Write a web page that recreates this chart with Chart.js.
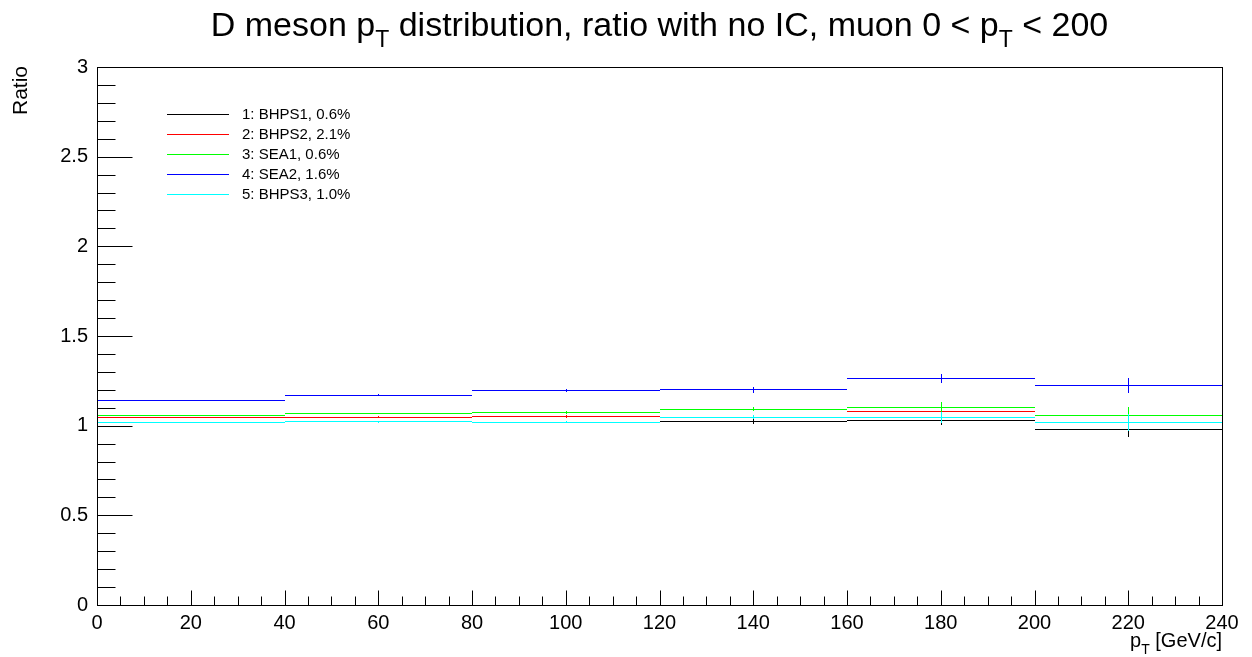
<!DOCTYPE html>
<html>
<head>
<meta charset="utf-8">
<script src="https://cdn.jsdelivr.net/npm/chart.js@4/dist/chart.umd.min.js"></script>
<style>
  body { margin: 0; background: #fff; font-family: "Liberation Sans", Arial, sans-serif; }
  #wrap { position: relative; width: 1252px; height: 657px; }
  #title { position: absolute; left: 97px; width: 1125px; top: 5px; text-align: center; font-size: 34px; white-space: nowrap; }
  #title sub { font-size: 23px; vertical-align: -11px; line-height: 0; }
  #ytitle { position: absolute; left: 8px; top: 115px; font-size: 21px; transform: rotate(-90deg); transform-origin: 0 0; white-space: nowrap; }
  #xtitle { position: absolute; right: 30px; top: 629px; font-size: 20px; white-space: nowrap; }
  #xtitle sub { font-size: 14px; vertical-align: -7px; line-height: 0; }
  #legend { position: absolute; left: 167px; top: 104px; font-size: 15px; }
  .row { height: 20px; display: flex; align-items: flex-start; line-height: 20px; }
  .sw { width: 62px; height: 0; margin-top: 10px; margin-right: 13px; border-top: 1px solid; }
</style>
</head>
<body>
<div id="wrap">
  <canvas id="c" width="1252" height="657"></canvas>
  <div id="title">D meson p<sub>T</sub> distribution, ratio with no IC, muon 0 &lt; p<sub>T</sub> &lt; 200</div>
  <div id="ytitle">Ratio</div>
  <div id="xtitle">p<sub>T</sub> [GeV/c]</div>
  <div id="legend"></div>
</div>
<script>
'use strict';

// bin edges in pT [GeV/c]
const binEdges = [0, 40, 80, 120, 160, 200, 240];

const seriesNames = ['1: BHPS1, 0.6%', '2: BHPS2, 2.1%', '3: SEA1, 0.6%', '4: SEA2, 1.6%', '5: BHPS3, 1.0%'];
const seriesColors = ['#000000', '#ff0000', '#00ff00', '#0000ff', '#00ffff'];

const bhps1    = [1.018, 1.022, 1.020, 1.026, 1.029, 0.979];
const bhps1Err = [0.004, 0.005, 0.006, 0.015, 0.025, 0.040];
const bhps2    = [1.046, 1.048, 1.053, 1.048, 1.081, 1.059];
const bhps2Err = [0.004, 0.005, 0.008, 0.013, 0.030, 0.045];
const sea1     = [1.057, 1.068, 1.074, 1.091, 1.102, 1.059];
const sea1Err  = [0.004, 0.005, 0.007, 0.012, 0.031, 0.044];
const sea2     = [1.141, 1.169, 1.197, 1.200, 1.264, 1.225];
const sea2Err  = [0.003, 0.005, 0.009, 0.016, 0.026, 0.043];
const bhps3    = [1.018, 1.022, 1.020, 1.048, 1.046, 1.018];
const bhps3Err = [0.004, 0.005, 0.006, 0.013, 0.030, 0.046];

const allValues = [bhps1, bhps2, sea1, sea2, bhps3];
const allErrors = [bhps1Err, bhps2Err, sea1Err, sea2Err, bhps3Err];

// horizontal segment per bin, broken between bins
function stepPoints(values) {
  const pts = [];
  values.forEach((v, i) => {
    pts.push({ x: binEdges[i], y: v });
    pts.push({ x: binEdges[i + 1], y: v });
    pts.push({ x: binEdges[i + 1], y: null });
  });
  return pts;
}

// later series are drawn over earlier ones, like ROOT does
const datasets = allValues.map((vals, k) => ({
  label: seriesNames[k],
  data: stepPoints(vals),
  borderColor: seriesColors[k],
  borderWidth: 1,
  pointRadius: 0,
  spanGaps: false,
  order: -k,
  errors: allErrors[k],
  values: vals,
}));

const snap = v => Math.round(v - 0.5) + 0.5;

// snap the library's computed points to the pixel grid so 1px lines stay crisp
const pixelSnap = {
  id: 'pixelSnap',
  beforeDatasetsDraw(chart) {
    chart.data.datasets.forEach((ds, i) => {
      chart.getDatasetMeta(i).data.forEach(p => {
        if (Number.isFinite(p.y)) p.y = snap(p.y);
        if (Number.isFinite(p.x)) p.x = Math.round(p.x);
      });
    });
  }
};

// vertical error bars at the bin centres
const errorBars = {
  id: 'errorBars',
  afterDatasetsDraw(chart) {
    const { ctx, scales: { x, y } } = chart;
    ctx.save();
    ctx.lineWidth = 1;
    chart.data.datasets.forEach(ds => {
      ctx.strokeStyle = ds.borderColor;
      ds.values.forEach((v, i) => {
        const px = Math.round(x.getPixelForValue((binEdges[i] + binEdges[i + 1]) / 2)) + 0.5;
        ctx.beginPath();
        ctx.moveTo(px, Math.round(y.getPixelForValue(v - ds.errors[i])));
        ctx.lineTo(px, Math.round(y.getPixelForValue(v + ds.errors[i])));
        ctx.stroke();
      });
    });
    ctx.restore();
  }
};

// ROOT style frame with inside tick marks
const frameTicks = {
  id: 'frameTicks',
  afterDraw(chart) {
    const { ctx, chartArea: a, scales: { x, y } } = chart;
    ctx.save();
    ctx.strokeStyle = '#000';
    ctx.lineWidth = 1;
    const L = Math.round(a.left) + 0.5, R = Math.round(a.right) + 0.5;
    const T = Math.round(a.top) + 0.5, B = Math.round(a.bottom) + 0.5;
    ctx.strokeRect(L, T, R - L, B - T);
    ctx.beginPath();
    x.ticks.forEach(t => {
      const px = Math.round(x.getPixelForValue(t.value)) + 0.5;
      const len = Math.abs(t.value % 20) < 1e-6 ? 15 : 9;
      ctx.moveTo(px, B);
      ctx.lineTo(px, B - len);
    });
    y.ticks.forEach(t => {
      const py = Math.round(y.getPixelForValue(t.value)) + 0.5;
      const major = Math.abs(t.value * 2 - Math.round(t.value * 2)) < 1e-6;
      ctx.moveTo(L, py);
      ctx.lineTo(L + (major ? 35 : 18), py);
    });
    ctx.stroke();
    ctx.restore();
  }
};

new Chart(document.getElementById('c'), {
  type: 'line',
  data: { datasets },
  options: {
    responsive: false,
    animation: false,
    layout: { padding: { top: 67, right: 30, left: 0, bottom: 0 } },
    plugins: { legend: { display: false }, tooltip: { enabled: false } },
    scales: {
      x: {
        type: 'linear',
        min: 0,
        max: 240,
        grid: { display: false, drawTicks: false },
        border: { display: false },
        ticks: {
          stepSize: 5,
          autoSkip: false,
          maxRotation: 0,
          padding: 6,
          color: '#000',
          font: { family: '"Liberation Sans", Arial, sans-serif', size: 20 },
          callback: v => (v % 20 === 0 ? String(v) : ''),
        },
        afterFit: s => { s.height = 52; },
      },
      y: {
        min: 0,
        max: 3,
        grid: { display: false, drawTicks: false },
        border: { display: false },
        ticks: {
          stepSize: 0.1,
          autoSkip: false,
          padding: 9,
          color: '#000',
          font: { family: '"Liberation Sans", Arial, sans-serif', size: 20 },
          callback: v => {
            const r = Math.round(v * 2) / 2;
            return Math.abs(v - r) < 1e-6 ? String(r) : '';
          },
        },
        afterFit: s => { s.width = 97; },
      },
    },
  },
  plugins: [pixelSnap, errorBars, frameTicks],
});

// legend
document.getElementById('legend').innerHTML = seriesNames.map((n, k) => `
  <div class="row"><span class="sw" style="border-color:${seriesColors[k]}"></span><span>${n}</span></div>
`).join('');
</script>
</body>
</html>
